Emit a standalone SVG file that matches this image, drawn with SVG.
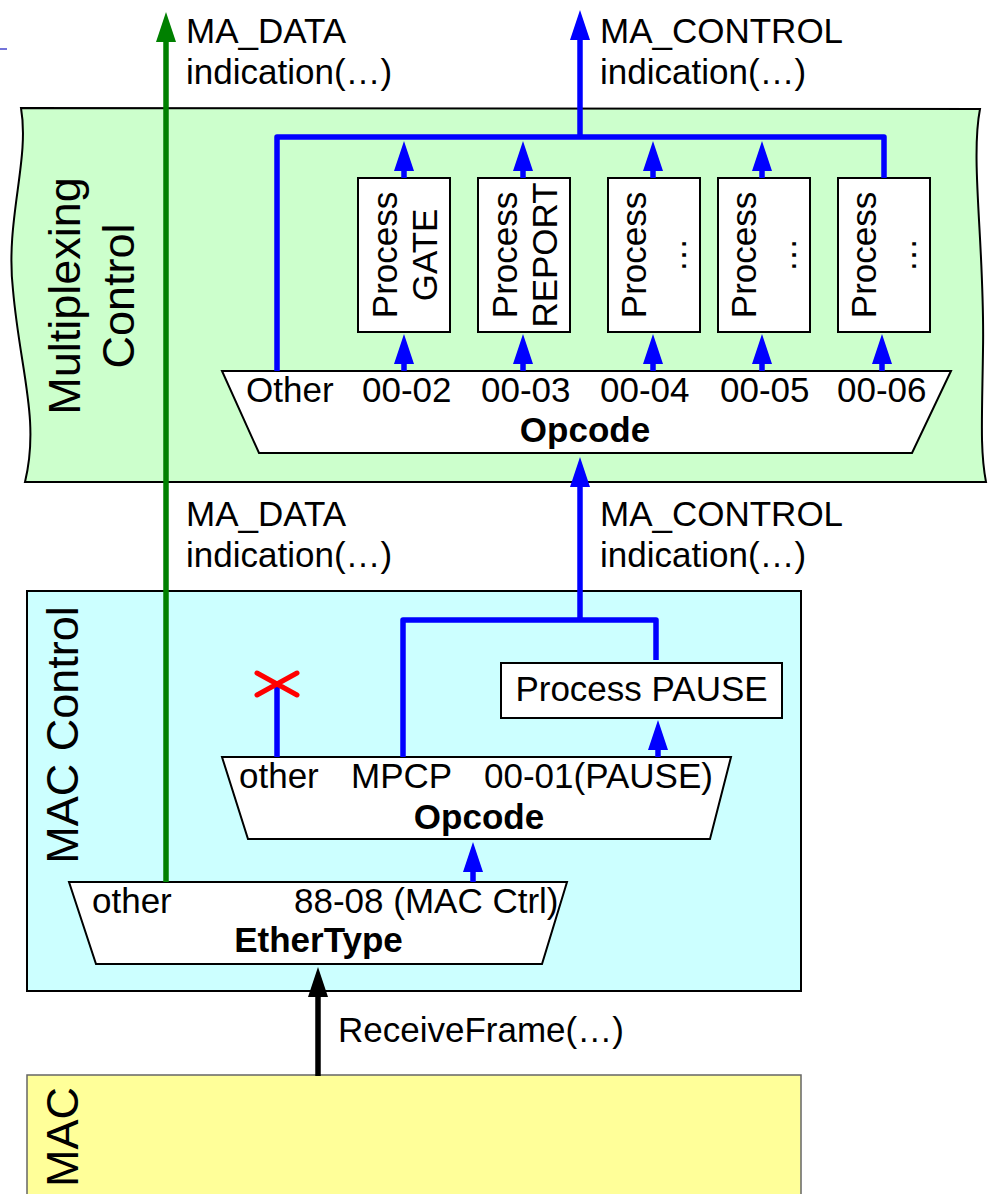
<svg xmlns="http://www.w3.org/2000/svg" width="994" height="1194" viewBox="0 0 994 1194">
  <style>
    text { font-family: "Liberation Sans", Arial, sans-serif; fill: #000; }
    .t { font-size: 35px; }
    .b { font-size: 35px; font-weight: bold; }
    .big { font-size: 45px; }
    .frame { stroke: #000; stroke-width: 2; }
    .box { fill: #fff; stroke: #000; stroke-width: 2; }
    .blue { fill: none; stroke: #0000ff; stroke-width: 5.5; stroke-linejoin: round; }
    .green { fill: none; stroke: #008000; stroke-width: 5.5; }
    .black { fill: none; stroke: #000; stroke-width: 5.5; }
    .cross { fill: none; stroke: #ff0000; stroke-width: 5; stroke-linecap: round; }
  </style>
  <defs>
    <marker id="ahBlue" viewBox="0 0 30 20" refX="1" refY="10" markerWidth="30" markerHeight="20" markerUnits="userSpaceOnUse" orient="auto">
      <path d="M0,0 L30,10 L0,20 z" fill="#0000ff"/>
    </marker>
    <marker id="ahGreen" viewBox="0 0 30 20" refX="1" refY="10" markerWidth="30" markerHeight="20" markerUnits="userSpaceOnUse" orient="auto">
      <path d="M0,0 L30,10 L0,20 z" fill="#008000"/>
    </marker>
    <marker id="ahBlack" viewBox="0 0 30 20" refX="1" refY="10" markerWidth="30" markerHeight="20" markerUnits="userSpaceOnUse" orient="auto">
      <path d="M0,0 L30,10 L0,20 z" fill="#000"/>
    </marker>
  </defs>

  <rect width="994" height="1194" fill="#fff"/>
  <line x1="0" y1="49" x2="7" y2="49" stroke="#4444cc" stroke-width="1.5"/>

  <!-- Layer frames -->
  <g id="multiplexing-control">
    <path class="frame" fill="#ccffcc" d="M21,108 L980,109 C970,160 985,250 983,350 C982,420 980,450 986,482 L25,482 C40,420 20,370 13,290 C5,220 30,160 21,108 Z"/>
    <text class="big" transform="translate(80,296) rotate(-90)" text-anchor="middle">Multiplexing</text>
    <text class="big" transform="translate(134,296) rotate(-90)" text-anchor="middle">Control</text>
  </g>

  <g id="mac-control">
    <rect class="frame" fill="#ccffff" x="27" y="591" width="774" height="400"/>
    <text class="big" transform="translate(78,735) rotate(-90)" text-anchor="middle">MAC Control</text>
  </g>

  <g id="mac">
    <rect fill="#ffff99" stroke="#666" stroke-width="1.5" x="27" y="1075" width="774" height="130"/>
    <text class="big" transform="translate(78,1187) rotate(-90)">MAC</text>
  </g>

  <!-- Opcode dispatch in the multiplexing layer -->
  <g id="mux-opcode">
    <polygon class="box" points="222,371 951,371 912,453 259,453"/>
    <text class="t" x="246" y="402">Other</text>
    <text class="t" x="362" y="402">00-02</text>
    <text class="t" x="481" y="402">00-03</text>
    <text class="t" x="600" y="402">00-04</text>
    <text class="t" x="720" y="402">00-05</text>
    <text class="t" x="837" y="402">00-06</text>
    <text class="b" x="585" y="442" text-anchor="middle">Opcode</text>
  </g>

  <g id="process-gate">
    <rect class="box" x="358" y="178" width="92" height="154"/>
    <text class="t" transform="translate(396.5,255) rotate(-90)" text-anchor="middle">Process</text>
    <text class="t" transform="translate(436.5,255) rotate(-90)" text-anchor="middle">GATE</text>
  </g>
  <g id="process-report">
    <rect class="box" x="478" y="178" width="92" height="154"/>
    <text class="t" transform="translate(516.5,255) rotate(-90)" text-anchor="middle">Process</text>
    <text class="t" transform="translate(556.5,255) rotate(-90)" text-anchor="middle">REPORT</text>
  </g>
  <g id="process-04">
    <rect class="box" x="608" y="178" width="92" height="154"/>
    <text class="t" transform="translate(646,255) rotate(-90)" text-anchor="middle">Process</text>
    <text class="t" transform="translate(686,255) rotate(-90)" text-anchor="middle">…</text>
  </g>
  <g id="process-05">
    <rect class="box" x="718" y="178" width="92" height="154"/>
    <text class="t" transform="translate(756,255) rotate(-90)" text-anchor="middle">Process</text>
    <text class="t" transform="translate(796,255) rotate(-90)" text-anchor="middle">…</text>
  </g>
  <g id="process-06">
    <rect class="box" x="838" y="178" width="92" height="154"/>
    <text class="t" transform="translate(876,255) rotate(-90)" text-anchor="middle">Process</text>
    <text class="t" transform="translate(916,255) rotate(-90)" text-anchor="middle">…</text>
  </g>

  <!-- MAC Control internals -->
  <g id="process-pause">
    <rect class="box" x="501" y="663" width="281" height="55"/>
    <text class="t" x="641.5" y="701" text-anchor="middle">Process PAUSE</text>
  </g>
  <g id="mac-opcode">
    <polygon class="box" points="222,757 731,757 710,839 248,839"/>
    <text class="t" x="239" y="788">other</text>
    <text class="t" x="351" y="788">MPCP</text>
    <text class="t" x="484" y="788">00-01(PAUSE)</text>
    <text class="b" x="479" y="829" text-anchor="middle">Opcode</text>
  </g>
  <g id="ethertype">
    <polygon class="box" points="69,882 567,882 542,964 96,964"/>
    <text class="t" x="92" y="913">other</text>
    <text class="t" x="294" y="913">88-08 (MAC Ctrl)</text>
    <text class="b" x="318.5" y="952" text-anchor="middle">EtherType</text>
  </g>

  <!-- Primitive labels -->
  <g id="labels">
    <text class="t" x="186" y="43">MA_DATA</text>
    <text class="t" x="186" y="84">indication(…)</text>
    <text class="t" x="600" y="43">MA_CONTROL</text>
    <text class="t" x="600" y="84">indication(…)</text>
    <text class="t" x="186" y="526">MA_DATA</text>
    <text class="t" x="186" y="567">indication(…)</text>
    <text class="t" x="600" y="526">MA_CONTROL</text>
    <text class="t" x="600" y="567">indication(…)</text>
    <text class="t" x="338" y="1042">ReceiveFrame(…)</text>
  </g>

  <!-- Connectors -->
  <g id="connectors">
    <!-- data path -->
    <path class="green" d="M166,882 L166,41" marker-end="url(#ahGreen)"/>
    <!-- receive from MAC -->
    <path class="black" d="M318,1076 L318,996" marker-end="url(#ahBlack)"/>
    <!-- EtherType 88-08 to MAC opcode -->
    <path class="blue" d="M473,882 L473,871" marker-end="url(#ahBlue)"/>
    <!-- MAC opcode branches -->
    <path class="blue" d="M277,757 L277,683"/>
    <path class="blue" d="M658,757 L658,749" marker-end="url(#ahBlue)"/>
    <path class="blue" d="M403,757 L403,620 L656,620 L656,660"/>
    <path class="blue" d="M580,620 L580,486" marker-end="url(#ahBlue)"/>
    <!-- multiplexing opcode branches -->
    <path class="blue" d="M404,371 L404,363" marker-end="url(#ahBlue)"/>
    <path class="blue" d="M523,371 L523,363" marker-end="url(#ahBlue)"/>
    <path class="blue" d="M653,371 L653,363" marker-end="url(#ahBlue)"/>
    <path class="blue" d="M762,371 L762,363" marker-end="url(#ahBlue)"/>
    <path class="blue" d="M882,371 L882,363" marker-end="url(#ahBlue)"/>
    <path class="blue" d="M404,178 L404,170" marker-end="url(#ahBlue)"/>
    <path class="blue" d="M523,178 L523,170" marker-end="url(#ahBlue)"/>
    <path class="blue" d="M653,178 L653,170" marker-end="url(#ahBlue)"/>
    <path class="blue" d="M762,178 L762,170" marker-end="url(#ahBlue)"/>
    <path class="blue" d="M277,371 L277,137 L884,137 L884,178"/>
    <path class="blue" d="M580,137 L580,39" marker-end="url(#ahBlue)"/>
    <!-- discarded opcodes -->
    <path class="cross" d="M257,673 L297,695 M257,695 L297,673"/>
  </g>
</svg>
